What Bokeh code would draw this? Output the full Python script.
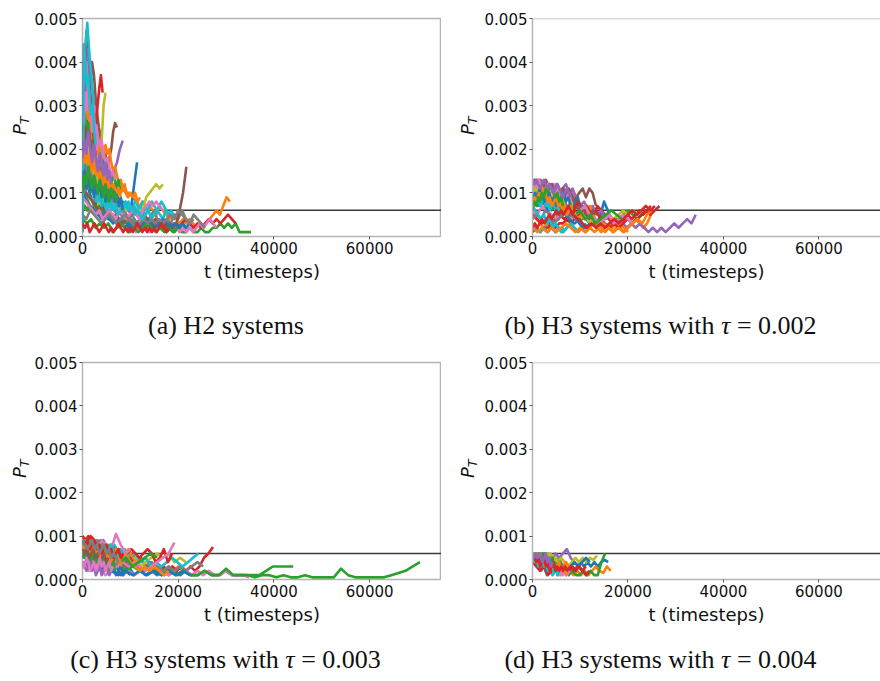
from bokeh.plotting import figure
from bokeh.layouts import row, column
from bokeh.models import (FixedTicker, PrintfTickFormatter, Span, Div,
                          ColumnDataSource, Range1d)
from bokeh.embed import file_html
from bokeh.resources import INLINE

# ---------------------------------------------------------------- data
# Every trace starts at t = 0 and is sampled every STEP timesteps.
# P_T samples are given in units of 1e-4.
PT_UNIT = 1e-4
THRESHOLD = 0.0006
X_TICKS = [0, 20000, 40000, 60000]
Y_TICKS = [0.000, 0.001, 0.002, 0.003, 0.004, 0.005]
X_LABEL = "t (timesteps)"
CAPTIONS = ["(a) H2 systems",
            "(b) H3 systems with <i>\u03c4</i> = 0.002",
            "(c) H3 systems with <i>\u03c4</i> = 0.003",
            "(d) H3 systems with <i>\u03c4</i> = 0.004"]

# (a) H2 systems
A_STEP = [600, 700, 800, 800, 600, 400, 700, 800, 400, 500,
          600, 400, 500, 400, 600, 700, 400, 600, 700, 600,
          800, 500, 900, 350, 500, 300, 700, 800, 300, 500,
          300, 300, 300, 300, 300, 350, 300, 400, 400, 300,
          400, 400, 400, 500, 400]
A_PT = [
    [22, 15, 11, 9, 7, 8, 6, 5, 6, 4, 5, 4, 3, 4, 3, 4, 2, 3, 4, 3, 2, 3, 4, 3, 2, 3, 3, 2, 4, 3, 2, 3, 2, 3, 2, 3, 2],
    [30, 24, 19, 16, 13, 15, 12, 10, 11, 10, 11, 10, 11, 10, 10, 9, 8, 7, 8, 6, 7, 6, 5, 7, 6, 5, 4, 5, 4, 3, 4, 3, 4, 3, 2, 3, 2, 3, 4, 5, 6, 5, 7, 9, 8],
    [14, 9, 7, 6, 7, 6, 5, 4, 5, 3, 4, 3, 4, 3, 2, 3, 2, 3, 2, 2, 3, 2, 1, 2, 1, 2, 1, 1, 2, 1, 1, 2, 1, 1, 2, 2, 3, 2, 3, 2, 3, 1, 1, 1, 1],
    [18, 47, 33, 26, 22, 17, 15, 12, 10, 9, 8, 7, 6, 5, 6, 4, 5, 4, 3, 4, 3, 2, 3, 2, 3, 2, 3, 4, 3, 2, 3, 2, 3, 4, 3, 4, 3, 4, 5, 4, 3],
    [20, 32, 43, 36, 30, 27, 24, 20, 17, 15, 13, 15, 17, 20, 22],
    [28, 33, 30, 36, 34, 40, 37, 31, 27, 23, 20, 17, 19, 16, 18, 20, 24, 26, 25],
    [36, 28, 22, 17, 14, 10, 8, 6, 5, 4, 3, 2, 3, 2, 1, 2, 1, 2, 3, 2, 1, 2, 3, 2, 3, 4, 2, 3, 2, 1, 2, 1, 2, 1, 2, 3, 2, 3, 4, 3, 2],
    [12, 10, 9, 8, 10, 12, 14, 11, 9, 7, 5, 6, 4, 5, 3, 4, 5, 3, 4, 3, 2, 3, 4, 3, 5, 4, 6, 4, 3, 5, 4, 3, 2],
    [8, 7, 6, 7, 6, 7, 6, 7, 6, 12, 22, 30, 33],
    [30, 42, 49, 41, 35, 28, 24, 20, 17, 15, 12, 10, 9, 8, 7, 8, 6, 7, 8, 7, 6, 7, 8, 7, 6, 8, 7, 6, 7, 8, 7, 6, 7, 8, 7, 6, 5, 6, 5],
    [26, 20, 16, 13, 12, 10, 9, 8, 9, 7, 8, 7, 8, 7, 8, 7, 6, 7, 12, 17],
    [40, 36, 31, 28, 25, 22, 24, 21, 19, 22, 20, 18, 21, 19, 20, 17, 15, 16, 14, 12, 13, 11, 12, 10],
    [6, 7, 6, 7, 6, 7, 6, 7, 6, 7, 8, 9, 12, 15, 11, 13, 10],
    [28, 24, 20, 17, 16, 15, 17, 16, 15, 14, 12, 11, 12, 10, 9, 8, 9, 7, 8, 6, 7, 6],
    [16, 14, 18, 15, 13, 11, 12, 10, 9, 10, 8, 9, 7, 8, 6, 7, 6, 5, 6, 5, 4, 5],
    [12, 10, 9, 8, 7, 6, 7, 5, 6, 4, 5, 4, 3, 4, 3, 2, 3, 2, 3, 2, 3, 2, 3, 2, 3, 2, 3, 2, 3, 6, 10, 16],
    [44, 38, 40, 35, 31, 28, 30, 26, 23, 21, 22, 19, 17, 18, 16, 14, 15, 13],
    [9, 11, 13, 12, 14, 13, 15, 14, 12, 10, 8, 6, 5, 6, 4, 5, 3, 4, 3, 2, 3, 2, 3, 4, 5, 6, 4],
    [16, 13, 11, 10, 9, 8, 9, 7, 8, 7, 8, 6, 7, 6, 7, 6, 5, 6, 6, 9, 10, 11, 12, 11, 12],
    [22, 18, 15, 12, 10, 11, 9, 8, 7, 8, 6, 7, 8, 7, 6, 7, 8, 6, 7, 6, 5, 6, 5, 6, 4, 5, 6, 5, 4, 6],
    [10, 8, 7, 6, 5, 4, 5, 4, 3, 4, 3, 2, 3, 2, 3, 2, 3, 4, 3, 2, 3, 4, 3, 2, 3, 2, 3, 2, 3],
    [24, 20, 17, 15, 13, 12, 11, 12, 10, 11, 10, 11, 10, 11, 10, 11, 10, 11, 10, 9, 10, 9, 10, 8, 9],
    [4, 3, 4, 2, 3, 2, 3, 1, 2, 3, 2, 1, 2, 1, 2, 3, 2, 1, 2, 1, 2, 1, 2],
    [14, 17, 20, 18, 22, 25, 23, 28, 26, 30, 34, 37, 33],
    [12, 14, 16, 13, 15, 12, 14, 11, 13, 10, 12, 9, 10, 8, 9, 7, 8],
    [20, 26, 22, 28, 25, 30, 27, 24, 26, 22],
    [9, 8, 7, 6, 5, 6, 4, 5, 6, 5, 4, 6, 5, 4, 5, 6, 5, 4, 6, 7, 8, 7, 8, 7, 6],
    [5, 4, 6, 5, 4, 3, 4, 5, 4, 3, 4, 5, 4, 3, 2, 3, 4, 3, 4, 3, 4, 3, 4, 5, 4, 6, 5, 4, 3, 4],
    [32, 28, 34, 30, 26, 29, 24, 22, 25, 20],
    [25, 20, 16, 13, 11, 10, 8, 9, 7, 8, 6, 7, 8, 6, 7, 5, 6, 7, 8, 6, 7, 6, 5, 6, 5, 4, 5],
    [2, 38, 33, 29, 26, 28, 24, 21, 18, 20, 16],
    [22, 28, 32, 27, 30, 25, 22, 24, 20, 18, 21, 19, 16],
    [25, 30, 27, 23, 26, 21, 19, 22, 18, 15, 17, 13],
    [1, 44, 38, 35, 30, 33, 28, 25, 22, 19, 16],
    [35, 41, 38, 33, 36, 30, 27, 29, 25],
    [18, 22, 25, 21, 24, 20, 17, 19, 15, 13, 16, 12],
    [30, 26, 33, 29, 35, 31, 27, 24, 28, 23, 20, 22],
    [20, 17, 22, 19, 16, 18, 14, 12, 15, 11, 13],
    [15, 19, 17, 21, 18, 16, 14, 17, 13, 11],
    [1, 44, 40, 35, 37, 31, 28, 30, 25, 21],
    [12, 15, 11, 14, 10, 13, 9, 12, 10, 13, 9, 11, 8, 10, 12, 9, 11, 8, 10, 7, 9, 6],
    [20, 17, 21, 16, 19, 15, 18, 14, 16, 13, 15, 12, 14, 11, 13, 10, 12, 11, 10, 11, 9],
    [10, 14, 12, 16, 13, 11, 14, 12, 10, 13, 11, 9, 12, 10, 8, 11, 9, 10, 8],
    [3, 2, 3, 1, 2, 3, 2, 1, 2, 3, 2, 1, 2, 1, 2, 3, 2, 1, 2, 1, 2, 1, 2, 3, 2, 1, 2, 1, 2, 1, 2, 1, 2, 3, 2, 1, 2],
    [18, 22, 19, 24, 20, 17, 21, 18, 15, 19, 16, 14, 17, 13, 15, 12],
]

# (b) H3 systems, tau = 0.002
B_STEP = [750, 800, 1000, 800, 900, 700, 600, 700, 1000, 800,
          700, 800, 500, 950, 600, 700, 1000, 900, 500, 600,
          1100, 1000, 1100, 950, 700, 400, 450, 400, 500, 400,
          500, 450, 400, 500, 400]
B_PT = [
    [9, 12, 11, 10, 11, 9, 8, 9, 7, 8, 6, 8, 9, 7, 6, 4, 3, 4, 3, 5, 8, 6, 4],
    [6, 4, 3, 2, 3, 2, 1, 2, 1, 2, 3, 2, 1, 2, 1, 2, 3, 2, 1, 2, 3, 2, 3, 2, 1, 2, 3, 4, 3, 2, 3, 5],
    [11, 12, 10, 8, 9, 7, 8, 6, 7, 5, 6, 4, 5, 3, 4, 5, 4, 3, 4, 5, 6, 5, 4, 5, 6, 5],
    [1, 2, 1, 2, 2, 3, 2, 3, 3, 4, 3, 4, 5, 4, 5, 6, 5, 7, 6, 5, 4, 3, 4, 3, 4, 5, 4, 5, 6, 5, 6, 7],
    [12, 13, 12, 11, 12, 10, 11, 9, 10, 8, 9, 7, 8, 6, 7, 5, 6, 4, 5, 3, 4, 3, 2, 3, 2, 3, 2, 1, 2, 1, 2, 1, 2, 3, 2, 3, 4, 3, 5],
    [13, 12, 11, 12, 10, 11, 12, 9, 10, 11, 9, 10, 8, 9, 10, 11, 9, 11, 10, 7],
    [12, 13, 12, 13, 12, 11, 12, 11, 12, 11, 10, 11, 10, 9, 10, 8, 7],
    [10, 9, 8, 9, 7, 8, 9, 7, 6, 8, 9, 10, 8, 7, 6, 5],
    [8, 10, 9, 8, 7, 6, 7, 5, 6, 5, 4, 5, 3, 4, 3, 4, 5, 4, 5, 6, 5, 6, 5, 6],
    [3, 2, 1, 2, 1, 2, 1, 2, 1, 2, 3, 2, 1],
    [12, 11, 10, 9, 10, 8, 9, 7, 8, 9, 7, 6, 5, 4, 3, 2, 3],
    [10, 8, 7, 8, 6, 7, 8, 7, 6, 7, 6, 5, 4, 6, 5, 7, 5, 3, 2, 1, 2, 1, 2, 3, 2, 1],
    [12, 11, 9, 10, 8, 9, 7, 8, 6, 7, 5, 4, 6, 7, 5, 6, 4],
    [5, 4, 3, 4, 3, 4, 5, 4, 5, 6, 5, 6, 7, 5, 6, 4, 3, 2, 3, 2, 3, 4, 3, 4, 5, 6, 5, 6, 7],
    [13, 12, 13, 11, 12, 10, 11, 10, 9, 8, 7, 6, 7, 5],
    [11, 12, 10, 11, 9, 10, 8, 9, 10, 11, 9, 10, 8, 7, 6, 7, 5, 4, 6, 5],
    [6, 5, 7, 6, 5, 4, 6, 5, 4, 5, 6, 7, 5, 4, 3, 4, 5, 3, 4, 5, 4, 3],
    [4, 5, 4, 6, 5, 3, 4, 5, 6, 5, 4],
    [12, 13, 12, 11, 12, 10, 9, 10, 8, 9, 7, 6, 8, 7, 5],
    [7, 6, 5, 4, 5, 3, 4, 2, 3, 2, 1, 2],
    [9, 7, 8, 6, 7, 5, 6, 4, 3, 4, 2, 3],
    [2, 1, 2, 1, 2, 1, 2, 3, 2, 1, 2, 1, 2, 1, 2, 3, 2, 1, 2, 1, 2, 3, 4, 3, 5, 6],
    [10, 11, 9, 8, 9, 7, 6, 7, 5, 6, 4, 5, 3, 4, 5, 6, 5, 4],
    [12, 11, 12, 10, 11, 9, 8, 7, 6, 5, 4, 3, 2, 3, 2, 3, 2, 3, 4, 3, 4, 5, 6, 5, 6, 7, 6, 7],
    [13, 12, 11, 12, 10, 11, 12, 10, 9, 11, 12, 10, 11, 9],
    [12, 13, 11, 12, 13, 12, 11, 13, 12, 11, 12, 10, 11, 12, 11, 10, 11, 9, 10, 11, 10, 9, 8, 9, 7],
    [10, 12, 11, 13, 12, 10, 11, 12, 10, 11, 9, 10, 11, 9, 10, 8, 9, 10, 8, 7],
    [11, 9, 10, 8, 9, 10, 8, 9, 7, 8, 9, 7, 8, 6, 7, 8, 6, 7, 5, 6],
    [9, 11, 10, 12, 11, 9, 10, 8, 9, 10, 8, 9, 7, 8, 6, 7, 8, 6, 5],
    [9, 8, 10, 9, 7, 8, 9, 7, 8, 6, 7, 8, 6, 7, 5, 6],
    [8, 10, 9, 11, 10, 8, 9, 10, 8, 9, 7, 8, 9, 10, 8, 9, 7, 6, 8, 9, 7],
    [7, 9, 8, 10, 9, 11, 10, 8, 9, 7, 8, 9, 7, 8, 6, 7, 5, 6, 7, 5],
    [6, 8, 7, 9, 8, 10, 9, 11, 10, 12, 11, 10, 9, 10, 8, 9, 7],
    [2, 3, 2, 3, 4, 3, 4, 5, 4, 5, 6, 5, 6, 5, 6, 7, 6, 5, 7, 8, 7],
    [13, 12, 13, 12, 11, 12, 13, 12, 11, 12, 11, 10, 11, 12, 11, 10, 9, 10, 11, 10, 9],
]

# (c) H3 systems, tau = 0.003
C_STEP = [1200, 1000, 1420, 940, 900, 1000, 1200, 1200, 1200, 1100,
          1000, 800, 1500, 850, 700, 1000, 1200, 800, 900, 1000,
          1500, 1000, 1300, 600, 1000, 900, 1000, 400, 450, 400,
          500, 450, 400, 500, 400, 450, 400, 500]
C_PT = [
    [8, 7, 6, 5, 4, 3, 4, 2, 3, 1, 2, 1, 2, 1, 2, 1, 2, 1, 2, 1],
    [7, 8, 7, 8, 6, 7, 8, 6, 5, 6, 4, 3, 4, 5, 4, 2, 3, 2, 3, 2, 3, 2],
    [6, 7, 5, 6, 4, 5, 3, 4, 3, 2, 3, 2, 1, 2, 1, 2, 1, 1, 2, 1, 1, 2, 1, 1, 1, 1, 1, 2, 3, 3, 3, 3],
    [8, 9, 8, 7, 9, 8, 7, 8, 6, 7, 5, 6, 4, 5, 3, 4, 3, 2, 3, 2, 3, 2, 3, 2, 3, 2, 3, 5, 6, 7.5],
    [9, 8, 9, 7, 8, 6, 7, 5, 6, 4, 5, 3, 4],
    [8, 9, 7, 8, 6, 7, 5, 6, 4, 3, 4, 3],
    [3, 2, 4, 3, 1, 2, 3, 1, 2, 1, 2, 3, 2, 3, 2, 1, 2, 3, 2, 1, 2, 1, 2, 1, 1, 2, 1, 1, 1, 0.5],
    [7, 8, 6, 7, 8, 6, 7, 5, 6, 4, 5, 3, 4, 3, 2, 3, 2, 3, 2, 3, 4, 3],
    [6, 7, 6, 5, 6, 4, 5, 6, 4, 5, 3, 4, 5, 6, 5, 6, 4, 5, 4],
    [9, 8, 9, 8, 9, 7, 8, 6, 7, 5, 6, 4, 5, 3, 4, 3, 4, 5, 4, 3, 4, 5, 6],
    [6, 5, 4, 5, 3, 4, 2, 3, 1, 2, 1],
    [9, 8, 7, 8, 7, 6, 7, 8, 7, 6, 5, 6, 7, 5, 4],
    [5, 6, 4, 5, 3, 4, 2, 3, 2, 3, 2, 1, 2, 1, 2, 1, 1, 2, 1, 1, 2.5, 1, 1, 1, 0.5, 1, 1, 0.5, 1, 0.5,
     0.5, 1, 0.5, 0.5, 0.5, 0.5, 2.5, 1, 0.5, 0.5, 0.5, 0.5, 0.5, 1, 1.5, 2, 3, 4],
    [10, 8, 10, 9, 8, 9, 7, 8, 7, 6, 5, 6, 7, 6, 5, 6, 7, 6, 4, 5, 7, 4, 6],
    [7, 6, 7, 8, 7, 6, 5, 6, 4, 5, 3],
    [5, 6, 5, 4, 5, 3, 4, 5, 6, 4, 5, 3],
    [6, 5, 4, 3, 4, 2, 3, 4, 3, 4, 3, 2, 3, 4, 5, 6, 8.5],
    [9, 8, 9, 8, 7, 8, 7, 6, 7, 5, 6, 4],
    [8, 9, 8, 7, 8, 6, 7, 5, 6, 4, 5],
    [8, 9, 8, 9, 8, 7, 8, 6, 7, 5, 4],
    [4, 3, 2, 3, 2, 1, 2, 1, 2, 1, 2, 1, 2, 1, 2, 1],
    [10, 9, 8, 9, 8, 7, 6, 7, 5, 6, 4, 3, 2, 3, 2, 3, 2, 1, 2],
    [7, 8, 6, 7, 5, 6, 4, 5, 3, 4, 5, 6, 5],
    [10, 9, 10, 8, 9, 7, 8, 6, 7, 5, 4],
    [6, 7, 9, 8, 7, 8, 6],
    [7, 6, 8, 7, 6, 5, 6],
    [6, 7, 8, 7, 9, 8, 7, 10.5, 8, 6, 7],
    [8, 9, 7, 8, 9, 8, 7, 8, 9, 7, 8, 6, 7, 8, 7, 6, 7, 5, 6, 7, 5, 6],
    [7, 8, 6, 7, 8, 7, 6, 7, 5, 6, 7, 5, 6, 4, 5, 6, 4],
    [9, 8, 9, 7, 8, 9, 8, 7, 8, 6, 7, 8, 7, 6, 7, 8, 6, 5, 6, 4, 5],
    [5, 6, 4, 5, 3, 4, 5, 3, 4, 2, 3, 4, 2, 3, 1, 2, 3, 1, 2],
    [8, 7, 8, 6, 7, 8, 6, 7, 5, 6, 7, 5, 6, 4, 5, 6, 4, 5, 3],
    [6, 5, 7, 6, 4, 5, 6, 4, 5, 3, 4, 5, 3, 4, 2, 3, 4, 2],
    [9, 8, 9, 7, 8, 9, 7, 8, 6, 7, 8, 6, 7, 5, 6, 7, 5, 6],
    [3, 4, 2, 3, 4, 2, 3, 1, 2, 3, 1, 2, 3, 2, 1, 2],
    [7, 6, 7, 5, 6, 7, 5, 6, 4, 5, 6, 4, 5],
    [4, 3, 5, 4, 2, 3, 4, 2, 3, 5, 3, 4, 2, 3, 4, 2, 3],
    [9, 8, 7, 8, 9, 7, 8, 6, 7, 8, 6, 7, 5, 6, 5, 4],
]

# (d) H3 systems, tau = 0.004
D_STEP = [720, 780, 760, 700, 800, 600, 650, 700, 750, 600,
          800, 700, 700, 800, 600, 700, 350, 400, 350, 400,
          350, 400, 350, 400, 350]
D_PT = [
    [6, 5, 4, 5, 3, 4, 2, 3, 2, 3, 2, 3, 2, 3, 4, 3, 4, 3, 4, 3, 4, 4.5, 4],
    [6, 5, 4, 3, 4, 2, 3, 1, 2, 1, 2, 1, 2, 1, 2, 1, 2, 3, 2, 1.5, 3, 2],
    [6, 5, 6, 4, 5, 3, 4, 2, 3, 2, 1, 2, 1, 1, 2, 1, 2, 1, 1, 4, 6],
    [6, 4, 5, 3, 4, 2, 3, 2, 3, 2, 3, 2, 3, 2, 3, 2, 1, 2],
    [6, 5, 6, 5, 6, 4, 6, 5, 6, 7, 5, 4, 3, 4],
    [6, 5, 6, 4, 5, 3, 4, 2, 3, 2, 3],
    [5, 6, 5, 4, 5, 3, 4, 2, 3, 1, 2, 1, 2],
    [6, 5, 6, 5, 4, 5, 3, 4, 5, 3, 2],
    [6, 5, 6, 4, 5, 6, 5, 4, 5, 4, 3, 4, 5, 4, 5, 4, 5, 4.5, 5.5],
    [5, 4, 3, 2, 3, 1, 2, 1, 2],
    [6, 5, 4, 3, 4, 2, 3, 4, 3, 2, 3, 4, 3, 4, 5, 4],
    [5, 6, 4, 5, 3, 4, 2, 3, 2, 3, 4, 3],
    [6, 6, 5, 6, 5, 4, 5, 3, 4, 3],
    [4, 3, 2, 3, 1, 2, 3, 2, 3, 2, 3, 2, 3, 2, 3],
    [6, 5, 4, 5, 3, 4, 2],
    [5, 4, 3, 4, 2, 3],
    [6, 5, 6, 4, 5, 6, 4, 5, 3, 4, 5, 3, 4, 2, 3, 4, 2, 3, 1, 2],
    [6, 5, 4, 5, 6, 4, 5, 3, 4, 5, 3, 4, 2, 3, 4, 2],
    [5, 6, 5, 6, 4, 5, 6, 4, 5, 6, 4, 5, 3, 4, 5, 3, 4],
    [6, 4, 5, 3, 4, 5, 3, 4, 2, 3, 4, 2, 3, 1, 2],
    [6, 5, 6, 5, 4, 5, 6, 4, 5, 3, 4, 5, 3, 4, 2, 3, 4, 3, 2, 3],
    [5, 6, 4, 5, 6, 4, 5, 3, 4, 5, 3, 4, 2, 3, 4, 2, 3, 2, 1],
    [6, 5, 6, 5, 6, 4, 5, 6, 4, 5, 3, 4, 5, 3, 4],
    [6, 5, 4, 5, 3, 4, 5, 3, 4, 2, 3, 4, 2, 3, 2, 3, 2, 3, 2],
    [6, 5, 6, 5, 6, 5, 4, 5, 6, 4, 5, 3, 4],
]

# ---------------------------------------------------------------- style
TAB10 = ["#1f77b4", "#ff7f0e", "#2ca02c", "#d62728", "#9467bd",
         "#8c564b", "#e377c2", "#7f7f7f", "#bcbd22", "#17becf"]
FRAME_COLOR = "#b4b4b4"
TICK_FONT = "DejaVu Sans"
CAPTION_FONT = "Liberation Serif"
X_FULL = 75000          # x extent of a full (uncropped) panel
FULL_FRAME_W = 359      # its width in pixels


def label_col_w(right):
    # width of the column holding the P_T label
    return 40 if right else 30


def make_figure(steps, values, right, top):
    lw = label_col_w(right)
    width = (439 if right else 441) - lw
    height = 290 if top else 292
    b_left = (90 if right else 82) - lw
    b_top = 18 if top else 22
    frame_h = 218 if top else 217
    b_bottom = height - b_top - frame_h
    frame_w = width - b_left
    x_end = X_FULL * frame_w / FULL_FRAME_W

    p = figure(width=width, height=height,
               x_range=Range1d(0, x_end), y_range=Range1d(0, 0.005),
               output_backend="svg", toolbar_location=None,
               min_border_left=b_left, min_border_right=0,
               min_border_top=b_top, min_border_bottom=b_bottom,
               margin=0)
    p.xgrid.visible = False
    p.ygrid.visible = False

    # threshold line (below the traces)
    p.add_layout(Span(location=THRESHOLD, dimension="width",
                      line_color="#3a3a3a", line_width=1.5, level="underlay"))

    xs = [[k * s for k in range(len(v))] for s, v in zip(steps, values)]
    ys = [[val * PT_UNIT for val in v] for v in values]
    colors = [TAB10[i % 10] for i in range(len(values))]
    src = ColumnDataSource(dict(xs=xs, ys=ys, color=colors))
    p.multi_line(xs="xs", ys="ys", line_color="color", line_width=2.6,
                 line_join="round", source=src)

    for ax in (p.xaxis[0], p.yaxis[0]):
        ax.major_label_text_font = TICK_FONT
        ax.major_label_text_font_size = "15px"
        ax.major_label_text_color = "#111111"
        ax.major_tick_in = 0
        ax.major_tick_out = 3
        ax.major_tick_line_color = "#555555"
        ax.minor_tick_line_color = None
        ax.major_label_standoff = 2
        ax.axis_line_color = FRAME_COLOR if right else None
        ax.axis_line_width = 1.5
    p.xaxis.ticker = FixedTicker(ticks=X_TICKS)
    p.xaxis.formatter = PrintfTickFormatter(format="%d")
    p.yaxis.ticker = FixedTicker(ticks=Y_TICKS)
    p.yaxis.formatter = PrintfTickFormatter(format="%.3f")
    p.xaxis.axis_label = X_LABEL
    p.xaxis.axis_label_text_font = TICK_FONT
    p.xaxis.axis_label_text_font_size = "18px"
    p.xaxis.axis_label_text_font_style = "normal"
    p.xaxis.axis_label_text_color = "#111111"
    p.xaxis.axis_label_standoff = 4

    if right:
        p.outline_line_color = None
        p.add_layout(Span(location=0.005, dimension="width",
                          line_color=FRAME_COLOR, line_width=1.5))
    else:
        p.outline_line_color = FRAME_COLOR
        p.outline_line_width = 1.5
    return p


def y_label_div(right, top):
    lw = label_col_w(right)
    height = 290 if top else 292
    left = 18 if right else 11
    tpos = 135 if top else 138
    html = (
        f'<div style="position:relative;width:{lw}px;height:{height}px;">'
        f'<div style="position:absolute;left:{left}px;top:{tpos}px;'
        'transform:rotate(-90deg);transform-origin:0 0;white-space:nowrap;'
        f"font-family:'{TICK_FONT}';font-size:18px;line-height:18px;"
        'font-style:italic;color:#111;">P<span style="font-size:13px;'
        'position:relative;top:3px;">T</span></div></div>')
    return Div(text=html, width=lw, height=height, margin=0)


def caption_div(text, right, top):
    width = 439 if right else 441
    height = 50 if top else 49
    pad_top = 23 if top else 15
    pad_left = 0 if right else (11 if top else 10)
    html = (
        f'<div style="box-sizing:border-box;width:{width}px;height:{height}px;'
        f'padding-top:{pad_top}px;padding-left:{pad_left}px;'
        f"text-align:center;font-family:'{CAPTION_FONT}';font-size:26px;"
        f'line-height:26px;color:#111;white-space:nowrap;">{text}</div>')
    return Div(text=html, width=width, height=height, margin=0)


def panel(steps, values, caption, right, top):
    fig = make_figure(steps, values, right, top)
    return column(row(y_label_div(right, top), fig, spacing=0),
                  caption_div(caption, right, top), spacing=0)


pa = panel(A_STEP, A_PT, CAPTIONS[0], right=False, top=True)
pb = panel(B_STEP, B_PT, CAPTIONS[1], right=True, top=True)
pc = panel(C_STEP, C_PT, CAPTIONS[2], right=False, top=False)
pd = panel(D_STEP, D_PT, CAPTIONS[3], right=True, top=False)

layout = column(row(pa, pb, spacing=0), row(pc, pd, spacing=0), spacing=0)
open("out.html", "w").write(file_html(layout, INLINE))
